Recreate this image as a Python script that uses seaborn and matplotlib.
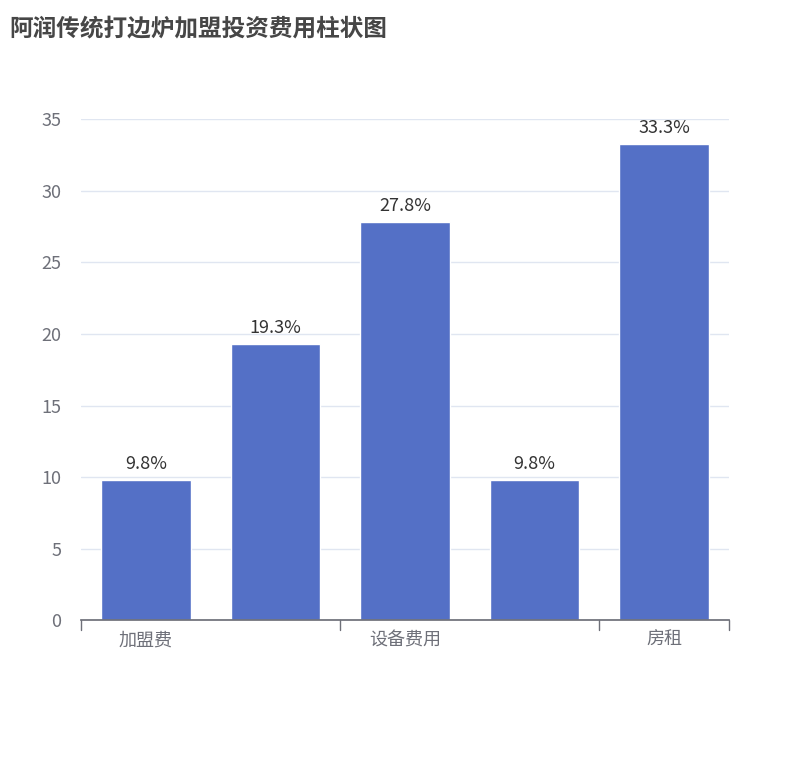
import matplotlib
matplotlib.use("Agg")
import matplotlib.pyplot as plt
import seaborn as sns
import pandas as pd

# data
categories = ["加盟费", "装修费用", "设备费用", "首批货款", "房租"]
values = [9.8, 19.3, 27.8, 9.8, 33.3]
shown_labels = ["加盟费", "", "设备费用", "", "房租"]
yticks = [0, 5, 10, 15, 20, 25, 30, 35]

sns.set_theme(style="white")
plt.rcParams['font.family'] = ['Noto Sans CJK SC', 'DejaVu Sans']

df = pd.DataFrame({"cat": categories, "val": values})

fig = plt.figure(figsize=(8.1, 7.6), dpi=100)
ax = fig.add_axes([0.1, 0.184, 0.8, 0.659])
sns.barplot(data=df, x="cat", y="val", color="#5470c6", saturation=1, width=0.69, ax=ax)

ax.set_xlim(-0.5, len(categories) - 0.5)
ax.set_ylim(0, 35)
ax.set_yticks(yticks)
ax.yaxis.grid(True, color="#e0e6f1", linewidth=1)
ax.set_axisbelow(True)
for s in ["top", "right", "left"]:
    ax.spines[s].set_visible(False)
ax.spines["bottom"].set_color("#6e7079")
ax.set_xlabel("")
ax.set_ylabel("")
ax.set_xticks(range(len(categories)))
ax.set_xticklabels(shown_labels)
ax.tick_params(axis="x", length=0, colors="#6e7079", labelsize=13, pad=8)
ax.tick_params(axis="y", length=0, colors="#6e7079", labelsize=13, pad=14)

# boundary ticks like the reference
for xb in [-0.5, 1.5, 3.5, 4.5]:
    ax.plot([xb, xb], [0, -0.02], transform=ax.get_xaxis_transform(),
            color="#6e7079", lw=1, clip_on=False)

for i, v in enumerate(values):
    ax.annotate(f"{v}%", (i, v), xytext=(0, 5), textcoords="offset points",
                ha="center", va="bottom", fontsize=13, color="#333333")

fig.text(0.012, 0.963, "阿润传统打边炉加盟投资费用柱状图", fontsize=17,
         fontweight="bold", color="#464646", ha="left", va="center")

fig.savefig("out.png", dpi=100)
